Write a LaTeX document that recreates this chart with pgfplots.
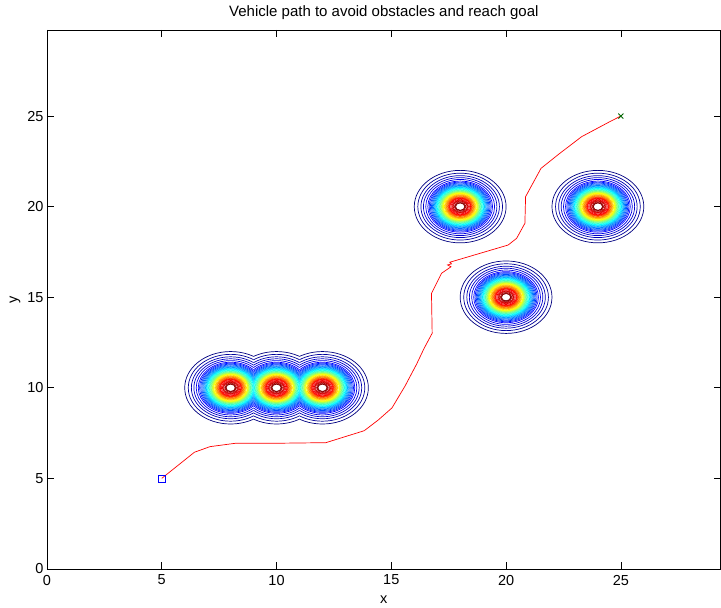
\documentclass[border=0pt]{standalone}
\usepackage{fontspec}
\setmainfont{Liberation Sans}
\usepackage{pgfplots}
\usepackage{pgfplotstable}
\pgfplotsset{compat=1.18}

% contour rings of one obstacle: radius (data units) and contour level
\pgfplotstableread{
r c
2.000 0.000
1.845 0.025
1.710 0.050
1.600 0.075
1.500 0.100
1.410 0.125
1.353 0.150
1.302 0.175
1.255 0.200
1.211 0.225
1.170 0.250
1.131 0.275
1.095 0.300
1.062 0.325
1.030 0.350
1.000 0.375
0.964 0.400
0.931 0.425
0.900 0.450
0.871 0.475
0.844 0.500
0.818 0.525
0.794 0.550
0.772 0.575
0.750 0.600
0.730 0.625
0.694 0.650
0.662 0.675
0.633 0.700
0.606 0.725
0.581 0.750
0.549 0.775
0.521 0.800
0.495 0.825
0.472 0.850
0.450 0.875
0.405 0.8875
0.360 0.900
0.330 0.9125
0.300 0.925
0.257 0.950
0.225 0.975
0.200 1.000
}\ringtab

\pgfplotstableread{
x y
5.00 5.00
6.42 6.44
7.10 6.75
8.23 6.94
10.15 6.94
12.15 6.97
13.82 7.63
14.43 8.22
15.03 8.89
15.60 10.10
16.10 11.30
16.43 12.18
16.78 13.01
16.75 15.21
17.19 16.32
17.60 16.68
17.45 16.78
17.62 16.84
17.55 16.93
20.09 17.88
20.46 18.25
20.82 19.08
20.85 20.55
21.52 22.11
22.34 22.94
23.29 23.86
24.52 24.69
25.00 25.00
}\pathtab

\pgfdeclareplotmark{ring}{%
  \pgfpathellipse{\pgfpointorigin}{\pgfqpoint{\rrx pt}{0pt}}{\pgfqpoint{0pt}{\rry pt}}%
  \pgfusepathqstroke}
\pgfdeclareplotmark{ringL}{%
  \begin{pgfscope}%
  \pgfpathrectangle{\pgfqpoint{-100pt}{-100pt}}{\pgfqpoint{122.96pt}{200pt}}\pgfusepath{clip}%
  \pgfpathellipse{\pgfpointorigin}{\pgfqpoint{\rrx pt}{0pt}}{\pgfqpoint{0pt}{\rry pt}}%
  \pgfusepathqstroke
  \end{pgfscope}}
\pgfdeclareplotmark{ringM}{%
  \begin{pgfscope}%
  \pgfpathrectangle{\pgfqpoint{-22.96pt}{-100pt}}{\pgfqpoint{45.92pt}{200pt}}\pgfusepath{clip}%
  \pgfpathellipse{\pgfpointorigin}{\pgfqpoint{\rrx pt}{0pt}}{\pgfqpoint{0pt}{\rry pt}}%
  \pgfusepathqstroke
  \end{pgfscope}}
\pgfdeclareplotmark{ringR}{%
  \begin{pgfscope}%
  \pgfpathrectangle{\pgfqpoint{-22.96pt}{-100pt}}{\pgfqpoint{122.96pt}{200pt}}\pgfusepath{clip}%
  \pgfpathellipse{\pgfpointorigin}{\pgfqpoint{\rrx pt}{0pt}}{\pgfqpoint{0pt}{\rry pt}}%
  \pgfusepathqstroke
  \end{pgfscope}}

\pgfplotsset{ringplot/.style={scatter, only marks, line width=0.7pt,
  mark options={line width=0.7pt},
  point meta=\thisrow{c},
  scatter/use mapped color={draw=mapped color, fill=none},
  visualization depends on={22.96*\thisrow{r}\as\rrx},
  visualization depends on={18.12*\thisrow{r}\as\rry}}}

\begin{document}
\begin{tikzpicture}
\begin{axis}[
  name=ax,
  x=22.96pt, y=18.12pt,
  xmin=0, xmax=29.35, ymin=0, ymax=29.75,
  xtick={0,5,10,15,20,25}, ytick={0,5,10,15,20,25},
  tick align=inside, major tick length=7pt,
  axis line style={line width=0.6pt},
  every tick/.style={black, line width=0.6pt},
  colormap/jet, point meta min=0, point meta max=1,
  /pgf/number format/assume math mode=true,
  tick label style={font=\fontsize{14.5}{16}\selectfont},
  xticklabel style={yshift=-2.5pt},
  every axis x label/.style={at={(axis description cs:0.5,0)}, anchor=center, yshift=-31pt, font=\fontsize{14.5}{16}\selectfont},
  every axis y label/.style={at={(axis description cs:0,0.5)}, anchor=center, xshift=-32pt, rotate=90, font=\fontsize{14.5}{16}\selectfont},
  every axis title/.style={at={(axis description cs:0.5,1)}, anchor=base, yshift=13pt, font=\fontsize{15}{17}\selectfont},
  xlabel={x}, ylabel={y},
  title={Vehicle path to avoid obstacles and reach goal},
  clip=false,
]
\addplot[ringplot, mark=ringL] table[x expr=8, y expr=10]{\ringtab};
\addplot[ringplot, mark=ringM] table[x expr=10, y expr=10]{\ringtab};
\addplot[ringplot, mark=ringR] table[x expr=12, y expr=10]{\ringtab};
\addplot[ringplot, mark=ring] table[x expr=18, y expr=20]{\ringtab};
\addplot[ringplot, mark=ring] table[x expr=20, y expr=15]{\ringtab};
\addplot[ringplot, mark=ring] table[x expr=24, y expr=20]{\ringtab};
\addplot[red, line width=0.7pt, mark=none] table{\pathtab};
\addplot[blue, only marks, mark=square, mark size=3.5pt, line width=0.6pt] coordinates {(5,5)};
\addplot[color={rgb,255:red,0;green,100;blue,0}, only marks, mark=x, mark size=3.5pt, line width=0.9pt] coordinates {(25,25)};
\end{axis}
\path ([xshift=-47pt,yshift=-39pt]ax.south west) rectangle ([yshift=30pt]ax.north east);
\end{tikzpicture}
\end{document}
